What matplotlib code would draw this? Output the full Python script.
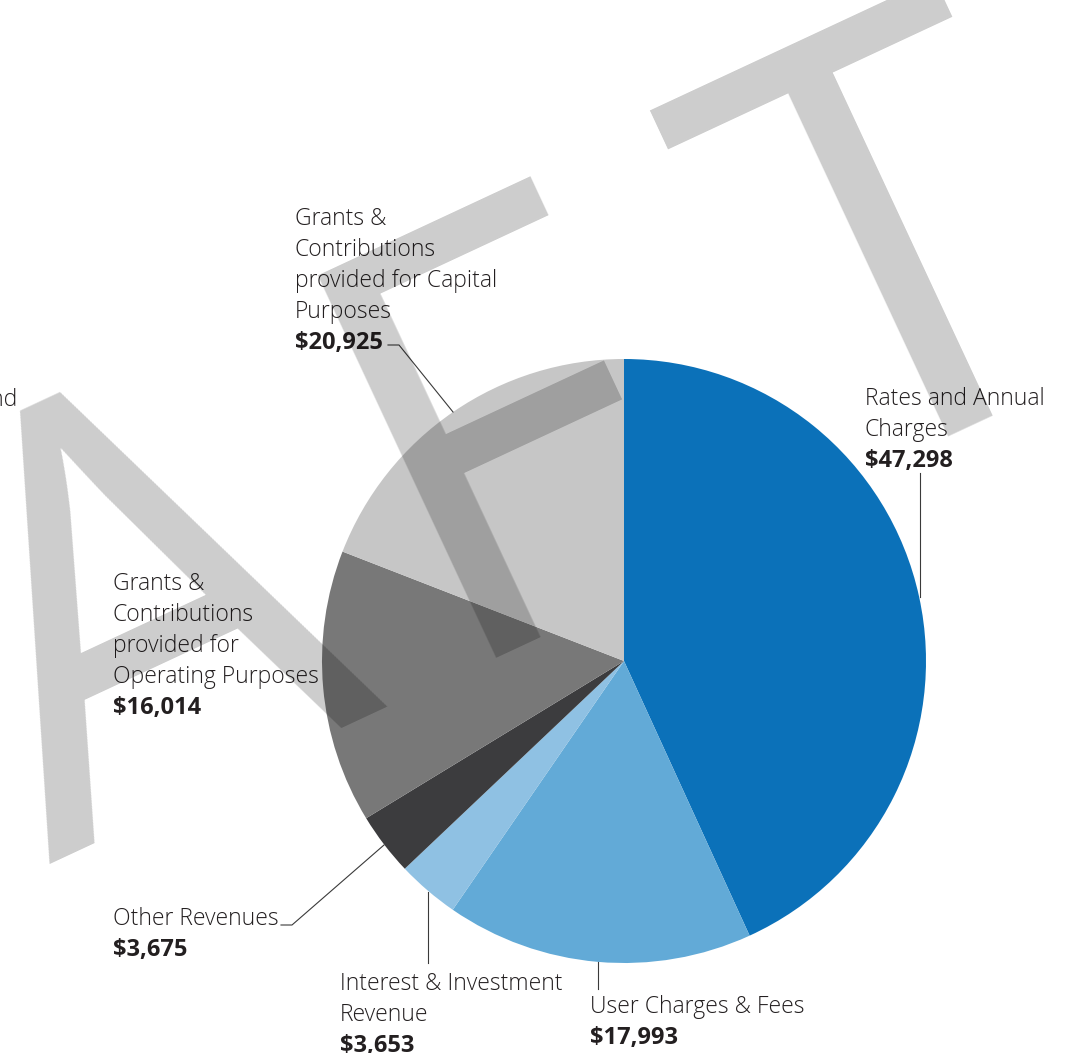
import matplotlib.pyplot as plt

# revenue by source ($'000), clockwise from 12 o'clock
sources = ["Rates and Annual Charges", "User Charges & Fees", "Interest & Investment Revenue",
           "Other Revenues", "Grants & Contributions provided for Operating Purposes",
           "Grants & Contributions provided for Capital Purposes"]
values = [47298, 17993, 3653, 3675, 16014, 20925]
colors = ["#0b71b9", "#62aad7", "#8fc1e3", "#3c3c3e", "#787878", "#c6c6c6"]

# label text as it is broken over lines in the report
label_lines = [
    ["Rates and Annual", "Charges"],
    ["User Charges & Fees"],
    ["Interest & Investment", "Revenue"],
    ["Other Revenues"],
    ["Grants &", "Contributions", "provided for", "Operating Purposes"],
    ["Grants &", "Contributions", "provided for Capital", "Purposes"],
]
amounts = ["$47,298", "$17,993", "$3,653", "$3,675", "$16,014", "$20,925"]

LIGHT = "Open Sans"
TXT = "#231f20"

fig = plt.figure(figsize=(10.66, 10.53), dpi=100)
ax = fig.add_axes([0, 0, 1, 1])

# work in pixel coordinates, y pointing down
ax.pie(values, colors=colors, startangle=-90, counterclock=True,
       center=(624, 661), radius=302, wedgeprops=dict(linewidth=0))
ax.set_xlim(0, 1066)
ax.set_ylim(1053, 0)
ax.set_aspect("auto")
ax.axis("off")

# label block positions (left x, first baseline y)
label_pos = [(865, 405), (590, 1013), (340, 990), (113, 925), (113, 590), (295, 225)]
step = 31
for lines, amt, (x, y) in zip(label_lines, amounts, label_pos):
    for i, s in enumerate(lines):
        ax.text(x, y + i * step, s, family=LIGHT, weight="light", fontsize=16.5,
                color=TXT, ha="left", va="baseline")
    ax.text(x, y + len(lines) * step, amt, family=LIGHT, weight="bold", fontsize=17,
            color=TXT, ha="left", va="baseline")

# leader lines
leaders = [
    [(920, 473), (920, 597)],
    [(598, 962), (598, 989)],
    [(428, 892), (428, 963)],
    [(281, 925), (292, 925), (384, 845)],
    [(388, 345), (399, 345), (453, 412)],
]
for pts in leaders:
    xs, ys = zip(*pts)
    ax.plot(xs, ys, color="#3a3a3a", linewidth=0.8)

# cut-off label from the neighbouring panel
ax.text(18, 406, "and", family=LIGHT, weight="light", fontsize=16.5,
        color=TXT, ha="right", va="baseline")

# DRAFT watermark (only "AFT" falls on the page)
wm = dict(family=LIGHT, weight="normal", fontsize=425, color="black", alpha=0.2,
          rotation=25, rotation_mode="anchor", ha="center", va="baseline", zorder=5)
ax.text(-300, 960, "R", **wm)
ax.text(219, 785, "A", **wm)
ax.text(576, 594, "F", **wm)
ax.text(970, 424, "T", **wm)

fig.savefig("out.png", dpi=100)
